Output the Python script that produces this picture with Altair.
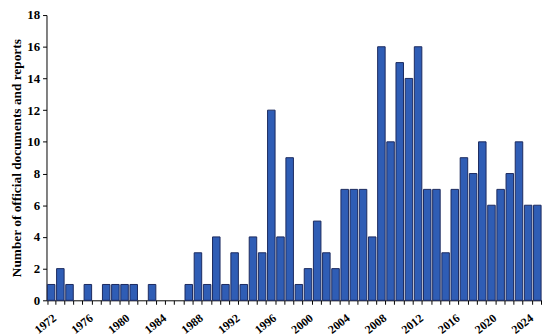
import altair as alt
import pandas as pd

years = list(range(1972, 2026))
counts = [1, 2, 1, 0, 1, 0, 1, 1, 1, 1, 0, 1, 0, 0, 0, 1, 3, 1, 4, 1,
          3, 1, 4, 3, 12, 4, 9, 1, 2, 5, 3, 2, 7, 7, 7, 4, 16, 10, 15, 14,
          16, 7, 7, 3, 7, 9, 8, 10, 6, 7, 8, 10, 6, 6]
label_years = [str(y) for y in range(1972, 2026, 4)]
y_ticks = list(range(0, 19, 2))

df = pd.DataFrame({"year": [str(y) for y in years], "count": counts})

font = "Liberation Serif"
label_expr = "indexof(" + str(label_years).replace("'", '"') + ", datum.value) >= 0 ? datum.value : ''"

chart = alt.Chart(df).mark_bar(
    color="#2F5DB5", stroke="#1B2A5E", strokeWidth=1
).encode(
    x=alt.X("year:O", sort=None,
            scale=alt.Scale(paddingInner=0.18, paddingOuter=0.1),
            axis=alt.Axis(title=None, labelAngle=-38, labelAlign="right",
                          labelBaseline="top", labelExpr=label_expr,
                          labelFont=font, labelFontWeight="bold", labelFontSize=12,
                          labelColor="black", tickBand="extent", tickSize=4,
                          tickColor="black", domainColor="black", labelPadding=8)),
    y=alt.Y("count:Q", scale=alt.Scale(domain=[0, 18], nice=False),
            axis=alt.Axis(values=y_ticks, title="Number of official documents and reports",
                          titleFont=font, titleFontWeight="bold", titleFontSize=13.5,
                          titleColor="black", titlePadding=3,
                          labelFont=font, labelFontWeight="bold", labelFontSize=13,
                          labelColor="black", tickSize=4, tickColor="black",
                          domainColor="black", grid=False, labelPadding=3)),
    opacity=alt.condition("datum.count > 0", alt.value(1), alt.value(0)),
).properties(
    width=502, height=289,
    autosize=alt.AutoSizeParams(type="none"),
    padding={"left": 39, "top": 5, "right": 0, "bottom": 34},
).configure_view(stroke=None)

chart.save("out.html", embed_options={"renderer": "svg", "actions": False})
